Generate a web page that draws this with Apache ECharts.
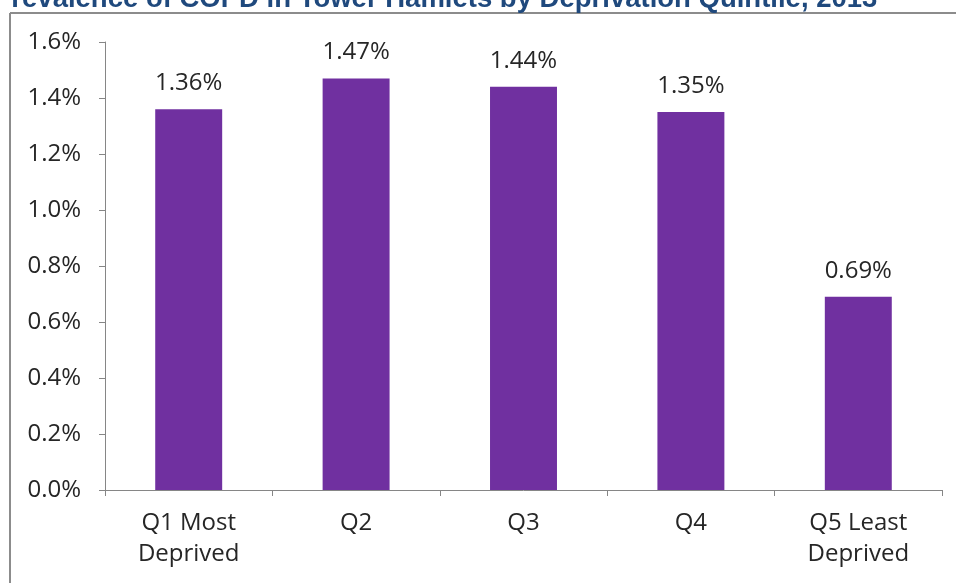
<!DOCTYPE html>
<html><head><meta charset="utf-8">
<script src="https://cdn.jsdelivr.net/npm/echarts@6/dist/echarts.min.js"></script>
<style>html,body{margin:0;padding:0;background:#fff}#c{width:956px;height:583px}</style>
</head><body><div id="c"></div>
<script>
const titleText = 'Prevalence of COPD in Tower Hamlets by Deprivation Quintile, 2013';
const categories = ['Q1 Most\nDeprived', 'Q2', 'Q3', 'Q4', 'Q5 Least\nDeprived'];
const values = [1.36, 1.47, 1.44, 1.35, 0.69];
const yTicks = [0, 0.2, 0.4, 0.6, 0.8, 1.0, 1.2, 1.4, 1.6];

const chart = echarts.init(document.getElementById('c'));
chart.setOption({
  animation: false,
  title: {
    text: titleText, left: -12, top: -20,
    textStyle: {fontFamily: 'Liberation Sans, sans-serif', fontWeight: 'bold', fontSize: 27.5, color: '#1F497D'}
  },
  graphic: [
    {type: 'line', shape: {x1: 10, y1: 13, x2: 956, y2: 13}, style: {stroke: '#8c8c8c', lineWidth: 2}},
    {type: 'line', shape: {x1: 10, y1: 13, x2: 10, y2: 583}, style: {stroke: '#8c8c8c', lineWidth: 2}}
  ],
  grid: {left: 105, right: 14, top: 42, bottom: 93},
  xAxis: {
    type: 'category', data: categories,
    axisLine: {lineStyle: {color: '#868686'}},
    axisTick: {show: true, length: 6, alignWithLabel: false, lineStyle: {color: '#868686'}},
    axisLabel: {fontFamily: 'Open Sans, sans-serif', fontSize: 24, color: '#262626', margin: 18, lineHeight: 31, interval: 0}
  },
  yAxis: {
    type: 'value', min: 0, max: 1.6, interval: 0.2,
    splitLine: {show: false},
    axisLine: {show: true, lineStyle: {color: '#868686'}},
    axisTick: {show: true, length: 6, lineStyle: {color: '#868686'}},
    axisLabel: {fontFamily: 'Open Sans, sans-serif', fontSize: 24, color: '#262626', margin: 24,
      formatter: v => v.toFixed(1) + '%'}
  },
  series: [{
    type: 'bar', data: values, barWidth: '40%',
    itemStyle: {color: '#7030A0'},
    label: {show: true, position: 'top', distance: 14, fontFamily: 'Open Sans, sans-serif', fontSize: 24, color: '#262626',
      formatter: p => p.value.toFixed(2) + '%'}
  }]
});
</script></body></html>
